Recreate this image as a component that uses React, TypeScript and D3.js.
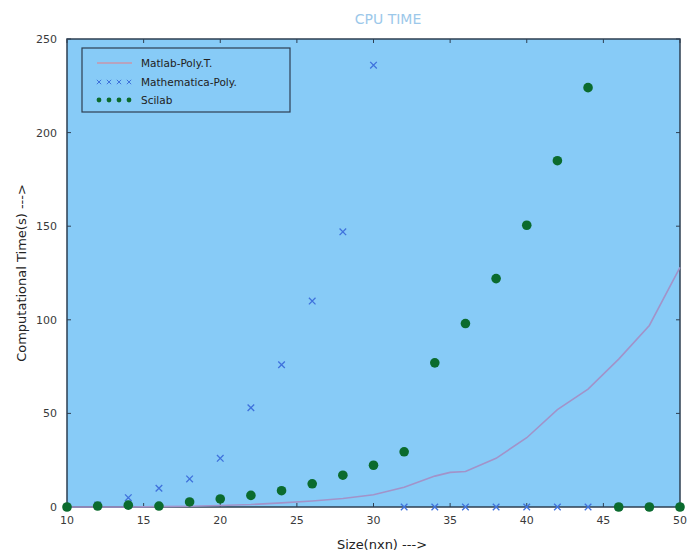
import React from "react";
import * as d3 from "d3";

const matlabX = [10, 12, 14, 16, 18, 20, 22, 24, 26, 28, 30, 32, 34, 35, 36, 38, 40, 42, 44, 46, 48, 50];
const matlabY = [0, 0, 0, 0.2, 0.4, 0.8, 1.3, 2.2, 3.2, 4.5, 6.5, 10.5, 16.5, 18.5, 19, 26, 37, 52, 63, 79, 97, 128];

const mathX = [12, 14, 16, 18, 20, 22, 24, 26, 28, 30, 32, 34, 36, 38, 40, 42, 44, 46, 48, 50];
const mathY = [1, 5, 10, 15, 26, 53, 76, 110, 147, 236, 0, 0, 0, 0, 0, 0, 0, 0, 0, 0];

const sciX = [10, 12, 14, 16, 18, 20, 22, 24, 26, 28, 30, 32, 34, 36, 38, 40, 42, 44, 46, 48, 50];
const sciY = [0, 0.5, 1, 0.5, 2.7, 4.3, 6.2, 8.7, 12.4, 17, 22.3, 29.5, 77, 98, 122, 150.5, 185, 224, 0, 0, 0];

const xTicks = [10, 15, 20, 25, 30, 35, 40, 45, 50];
const yTicks = [0, 50, 100, 150, 200, 250];

const legendLabels = ["Matlab-Poly.T.", "Mathematica-Poly.", "Scilab"];

export default function App() {
  const W = 693, H = 554;
  const L = 67, R = 680, T = 39, B = 507;
  const x = d3.scaleLinear().domain([10, 50]).range([L, R]);
  const y = d3.scaleLinear().domain([0, 250]).range([B, T]);
  const line = d3.line<number>().x((_, i) => x(matlabX[i])).y((d) => y(d));
  const font = "'DejaVu Sans', Verdana, sans-serif";
  const axisCol = "#2e3f52";
  const tickCol = "#3a3a3a";
  const cross = (cx: number, cy: number, s: number) => `M${cx - s},${cy - s}L${cx + s},${cy + s}M${cx - s},${cy + s}L${cx + s},${cy - s}`;
  return (
    <svg width={W} height={H} style={{ position: "absolute", left: 0, top: 0, background: "#fff" }}>
      <rect x={0} y={0} width={W} height={H} fill="#fff" />
      <text x={388} y={24} textAnchor="middle" fontFamily={font} fontSize={14} fill="#9cc8ea">CPU TIME</text>
      <rect x={L} y={T} width={R - L} height={B - T} fill="#87cbf7" />
      {xTicks.map((t) => (
        <g key={"xt" + t}>
          <line x1={x(t)} x2={x(t)} y1={B} y2={B - 4} stroke={axisCol} />
          <line x1={x(t)} x2={x(t)} y1={T} y2={T + 4} stroke={axisCol} />
          <text x={x(t)} y={B + 17} textAnchor="middle" fontFamily={font} fontSize={11} fill={tickCol}>{t}</text>
        </g>
      ))}
      {yTicks.map((t) => (
        <g key={"yt" + t}>
          <line x1={L} x2={L + 4} y1={y(t)} y2={y(t)} stroke={axisCol} />
          <line x1={R} x2={R - 4} y1={y(t)} y2={y(t)} stroke={axisCol} />
          <text x={L - 10} y={y(t) + 4} textAnchor="end" fontFamily={font} fontSize={11} fill={tickCol}>{t}</text>
        </g>
      ))}
      <rect x={L} y={T} width={R - L} height={B - T} fill="none" stroke={axisCol} strokeWidth={1.5} />
      <path d={line(matlabY) || ""} fill="none" stroke="#a293c9" strokeWidth={1.6} />
      {mathY.map((v, i) => (
        <path key={"m" + i} d={cross(x(mathX[i]), y(v), 3.3)} stroke="#3f72dc" strokeWidth={1.3} fill="none" />
      ))}
      {sciY.map((v, i) => (
        <circle key={"s" + i} cx={x(sciX[i])} cy={y(v)} r={4.8} fill="#0b6b2e" />
      ))}
      <rect x={82} y={48} width={208} height={64} fill="#87cbf7" stroke={axisCol} strokeWidth={1.2} />
      <line x1={97} x2={132} y1={63} y2={63} stroke="#ea7c86" strokeWidth={1.2} />
      {[0, 1, 2, 3].map((k) => (
        <path key={"lc" + k} d={cross(99 + k * 10, 82, 2.2)} stroke="#3f72dc" strokeWidth={1} fill="none" />
      ))}
      {[0, 1, 2, 3].map((k) => (
        <circle key={"ld" + k} cx={99 + k * 10} cy={100} r={2.4} fill="#0b6b2e" />
      ))}
      {legendLabels.map((s, i) => (
        <text key={s} x={141} y={67 + i * 18.5} fontFamily={font} fontSize={10.5} fill="#222">{s}</text>
      ))}
      <text x={382} y={549} textAnchor="middle" fontFamily={font} fontSize={13} fill="#222">Size(nxn) ---&gt;</text>
      <text transform={`translate(26,${(T + B) / 2}) rotate(-90)`} textAnchor="middle" fontFamily={font} fontSize={13} fill="#222">Computational Time(s) ---&gt;</text>
    </svg>
  );
}
